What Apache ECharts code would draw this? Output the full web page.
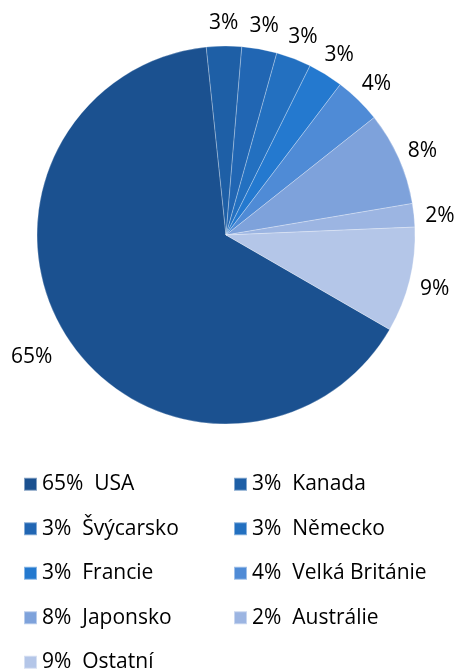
<!DOCTYPE html>
<html>
<head>
<meta charset="utf-8">
<script src="https://cdn.jsdelivr.net/npm/echarts@6/dist/echarts.min.js"></script>
<style>
html,body{margin:0;padding:0;background:#fff;}
#chart{width:454px;height:670px;}
</style>
</head>
<body>
<div id="chart"></div>
<script>
const categories = ['USA', 'Kanada', 'Švýcarsko', 'Německo', 'Francie', 'Velká Británie', 'Japonsko', 'Austrálie', 'Ostatní'];
const shares = [65, 3, 3, 3, 3, 4, 8, 2, 9];
const colors = ['#1B5190', '#1E5FA6', '#2166B3', '#2370C0', '#2479CF', '#4F8BD6', '#7EA2DB', '#9CB5E2', '#B4C6E8'];

const total = shares.reduce((a, b) => a + b, 0);
const pct = v => Math.round(v / total * 100) + '%';
const pctByName = {};
categories.forEach((c, i) => { pctByName[c] = pct(shares[i]); });

const data = categories.map((c, i) => ({ name: c, value: shares[i], itemStyle: { color: colors[i] } }));
const FONT = '"Open Sans", sans-serif';

const chart = echarts.init(document.getElementById('chart'), null, { renderer: 'canvas' });
chart.setOption({
  animation: false,
  backgroundColor: '#fff',
  legend: {
    data: categories,
    left: 23,
    top: 462,
    width: 420,
    padding: 0,
    itemGap: 0,
    itemWidth: 13,
    itemHeight: 13,
    icon: 'rect',
    selectedMode: false,
    formatter: name => pctByName[name] + '  ' + name,
    textStyle: { fontFamily: FONT, fontSize: 21, color: '#000', width: 191, lineHeight: 44.5 }
  },
  series: [
    {
      type: 'pie',
      center: [226, 235],
      radius: [0, 189],
      startAngle: -30,
      clockwise: true,
      silent: true,
      label: { show: false },
      labelLine: { show: false },
      itemStyle: { borderColor: 'rgba(255,255,255,0.45)', borderWidth: 0.6 },
      data: data
    },
    {
      type: 'pie',
      center: [226, 235],
      radius: [197, 227],
      startAngle: -30,
      clockwise: true,
      silent: true,
      itemStyle: { color: 'transparent' },
      label: {
        show: true,
        position: 'inside',
        offset: [0, 3],
        fontFamily: FONT,
        fontSize: 21,
        color: '#000',
        formatter: p => pct(p.value)
      },
      labelLine: { show: false },
      data: categories.map((c, i) => (
        i === 0
          ? { name: c, value: shares[i], label: { offset: [-14, 5] } }
          : { name: c, value: shares[i] }
      ))
    }
  ]
});
</script>
</body>
</html>
